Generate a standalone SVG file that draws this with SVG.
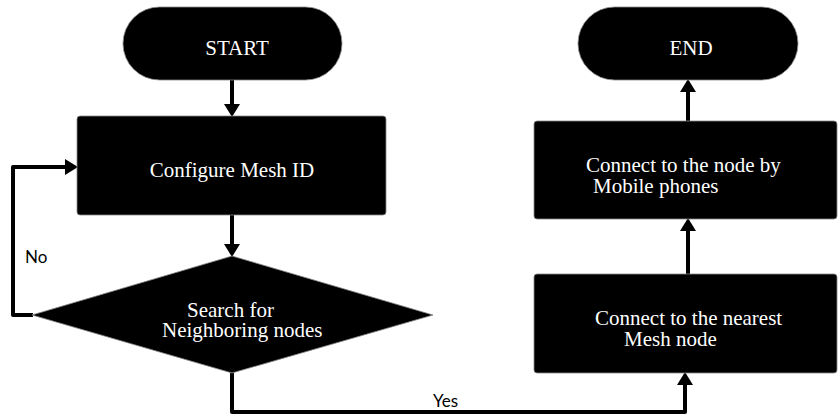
<svg xmlns="http://www.w3.org/2000/svg" width="838" height="419" viewBox="0 0 838 419">
<style>
.shape{fill:#000;stroke:#888;stroke-width:0.8}
.t{font-family:"Liberation Serif","Times New Roman",serif;font-size:21px;fill:#fff}
.c{text-anchor:middle}
.lbl{font-family:Lato,"Liberation Sans",sans-serif;font-size:17px;fill:#000}
.conn{fill:none;stroke:#000;stroke-width:4;stroke-linejoin:round}
</style>
<defs>
<marker id="ah" markerUnits="userSpaceOnUse" markerWidth="13" markerHeight="16" refX="4" refY="8" orient="auto" viewBox="0 0 13 16">
<path d="M0,0 L13,8 L0,16 Z" fill="#000"/>
</marker>
</defs>
<rect width="838" height="419" fill="#fff"/>
<g id="connectors">
<path class="conn" d="M232,80 V108" marker-end="url(#ah)"/>
<path class="conn" d="M232,215 V248" marker-end="url(#ah)"/>
<path class="conn" d="M33,315 H13 V167 H69" marker-end="url(#ah)"/>
<path class="conn" d="M232,373 V412 H685 V381" marker-end="url(#ah)"/>
<path class="conn" d="M688,274 V227" marker-end="url(#ah)"/>
<path class="conn" d="M688,121 V88" marker-end="url(#ah)"/>
<text class="lbl" x="25" y="263">No</text>
<text class="lbl" x="433" y="407">Yes</text>
</g>
<g id="start">
<rect class="shape" x="123" y="7" width="219" height="73" rx="36.5"/>
<text class="t c" x="237" y="55">START</text>
</g>
<g id="configure">
<rect class="shape" x="77" y="116" width="309" height="99" rx="3"/>
<text class="t c" x="232" y="177">Configure Mesh ID</text>
</g>
<g id="search">
<polygon class="shape" points="232,256 433,315 232,373 32,315"/>
<text class="t" x="187" y="317">Search for</text>
<text class="t" x="162" y="337">Neighboring nodes</text>
</g>
<g id="nearest">
<rect class="shape" x="534" y="274" width="303" height="99" rx="3"/>
<text class="t" x="595" y="325">Connect to the nearest</text>
<text class="t" x="624" y="346">Mesh node</text>
</g>
<g id="mobile">
<rect class="shape" x="534" y="121" width="303" height="98" rx="3"/>
<text class="t" x="586" y="172">Connect to the node by</text>
<text class="t" x="593" y="193">Mobile phones</text>
</g>
<g id="end">
<rect class="shape" x="578" y="7" width="220" height="73" rx="36.5"/>
<text class="t c" x="691" y="55">END</text>
</g>
</svg>
